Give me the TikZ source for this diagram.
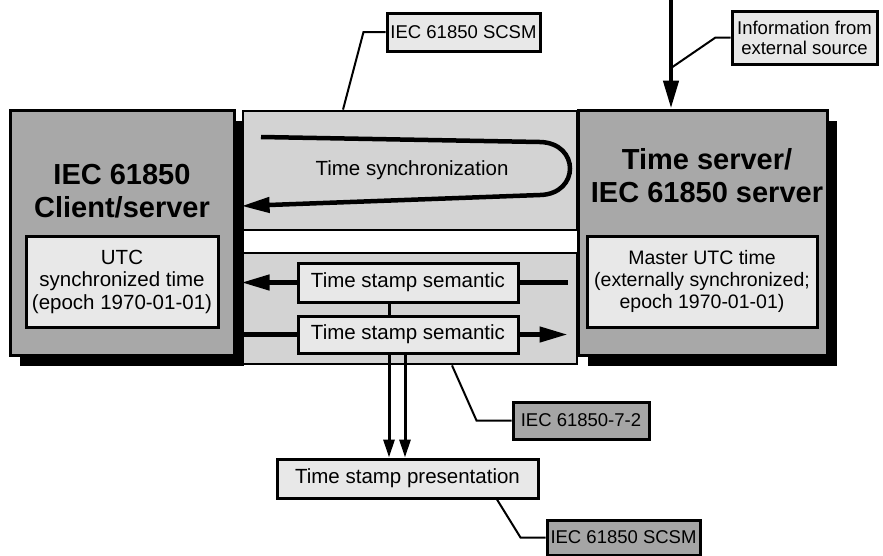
\documentclass[tikz,border=0pt]{standalone}
\usepackage{fontspec}
\setmainfont{Liberation Sans}
\usepackage{tikz}
\usetikzlibrary{arrows.meta,positioning,shapes,calc,shadows}
\definecolor{unitgray}{RGB}{168,168,168}
\definecolor{bandgray}{RGB}{211,211,211}
\definecolor{panelgray}{RGB}{232,232,232}
\definecolor{taggray}{RGB}{165,165,165}

\begin{document}
\begin{tikzpicture}[x=1pt, y=-1pt,
        unit/.style={rectangle, draw=black, line width=3pt, fill=unitgray, inner sep=0pt,
                     drop shadow={shadow xshift=10pt, shadow yshift=-11pt, fill=black, opacity=1}},
        band/.style={rectangle, draw=black, line width=2.8pt, fill=bandgray, inner sep=0pt},
        panel/.style={rectangle, draw=black, line width=3pt, fill=panelgray, inner sep=0pt,
                      align=center, font=\fontsize{20.5}{22.5}\selectfont},
        tag/.style={rectangle, draw=black, line width=3pt, fill=panelgray, inner sep=0pt,
                    align=center, font=\fontsize{18.5}{20}\selectfont},
        title/.style={align=center, inner sep=0pt, font=\fontsize{29}{33}\selectfont\bfseries},
        flow/.style={line width=4.5pt, -{Triangle[length=28pt, width=15pt]}},
        link/.style={line width=3pt, -{Triangle[length=18pt, width=11pt]}},
        leader/.style={line width=2pt}
    ]
    \useasboundingbox (0,0) rectangle (883,555);

    \node[band, minimum width=334pt, minimum height=119pt] (syncband) at (410,170.5) {};
    \node[band, minimum width=334pt, minimum height=111pt] (stampband) at (410,308.5) {};

    \node[unit, minimum width=224pt, minimum height=245pt] (client) at (122,232.5) {};
    \node[unit, minimum width=249pt, minimum height=245pt] (server) at (702.5,232.5) {};
    \node[title] (clienttitle) at (122,191) {IEC 61850\\Client/server};
    \node[title] (servertitle) at (707,175.5) {Time server/\\IEC 61850 server};
    \node[panel, minimum width=192pt, minimum height=91pt] (clienttime) at (122,281.5)
        {UTC\\synchronized time\\(epoch 1970-01-01)};
    \node[panel, minimum width=230pt, minimum height=91pt, font=\fontsize{19.5}{22}\selectfont]
        (mastertime) at (702,281.5)
        {Master UTC time\\(externally synchronized;\\epoch 1970-01-01)};

    \node[font=\fontsize{20.5}{23}\selectfont, anchor=base] (synclabel) at (412,175) {Time synchronization};
    \node[panel, minimum width=220pt, minimum height=39pt] (sem1) at (408,282.5) {Time stamp semantic};
    \node[panel, minimum width=220pt, minimum height=37pt] (sem2) at (408,334.5) {Time stamp semantic};
    \node[panel, minimum width=261pt, minimum height=39pt] (pres) at (407.5,478.5) {Time stamp presentation};

    \node[tag, minimum width=153pt, minimum height=38pt] (scsmtop) at (463.5,32) {IEC 61850 SCSM};
    \node[tag, minimum width=145pt, minimum height=53pt] (extinfo) at (804.5,37.5) {Information from\\external source};
    \node[tag, fill=taggray, minimum width=136pt, minimum height=37pt] (part72) at (581,420.5) {IEC 61850-7-2};
    \node[tag, fill=taggray, minimum width=153pt, minimum height=35pt] (scsmbot) at (623.5,537.5) {IEC 61850 SCSM};

    \coordinate (syncstart) at (261,137);
    \coordinate (extsrc) at (671,0);

    \draw[flow] (syncstart) -- (540,142) .. controls (580,143) and (580,194) .. (540,195)
        -- (syncband.west |- 0,206);
    \draw[flow] (extsrc) -- (extsrc |- server.north);
    \draw[flow] (sem1.west) -- (stampband.west |- sem1.west);
    \draw[line width=4.5pt] ($(server.west |- sem1.east)+(-9,0)$) -- (sem1.east);
    \draw[line width=4.5pt] (stampband.west |- sem2.west) -- (sem2.west);
    \draw[flow] (sem2.east) -- ($(server.west |- sem2.east)+(-9,0)$);
    \draw[line width=3pt] (sem1.south -| 389,0) -- (sem2.north -| 389,0);
    \draw[link] (sem2.south -| 389,0) -- (pres.north -| 389,0);
    \draw[link] (sem2.south -| 405,0) -- (pres.north -| 405,0);

    \draw[leader] (scsmtop.west) -- ++(-22,0) -- (syncband.north -| 343,0);
    \draw[leader] (extinfo.west) -- ++(-15,0) -- (extsrc |- 0,68);
    \draw[leader] (part72.west) -- ++(-35,0) -- (stampband.south -| 452,0);
    \draw[leader] (scsmbot.west) -- ++(-25,0) -- (pres.south -| 497,0);
\end{tikzpicture}
\end{document}
